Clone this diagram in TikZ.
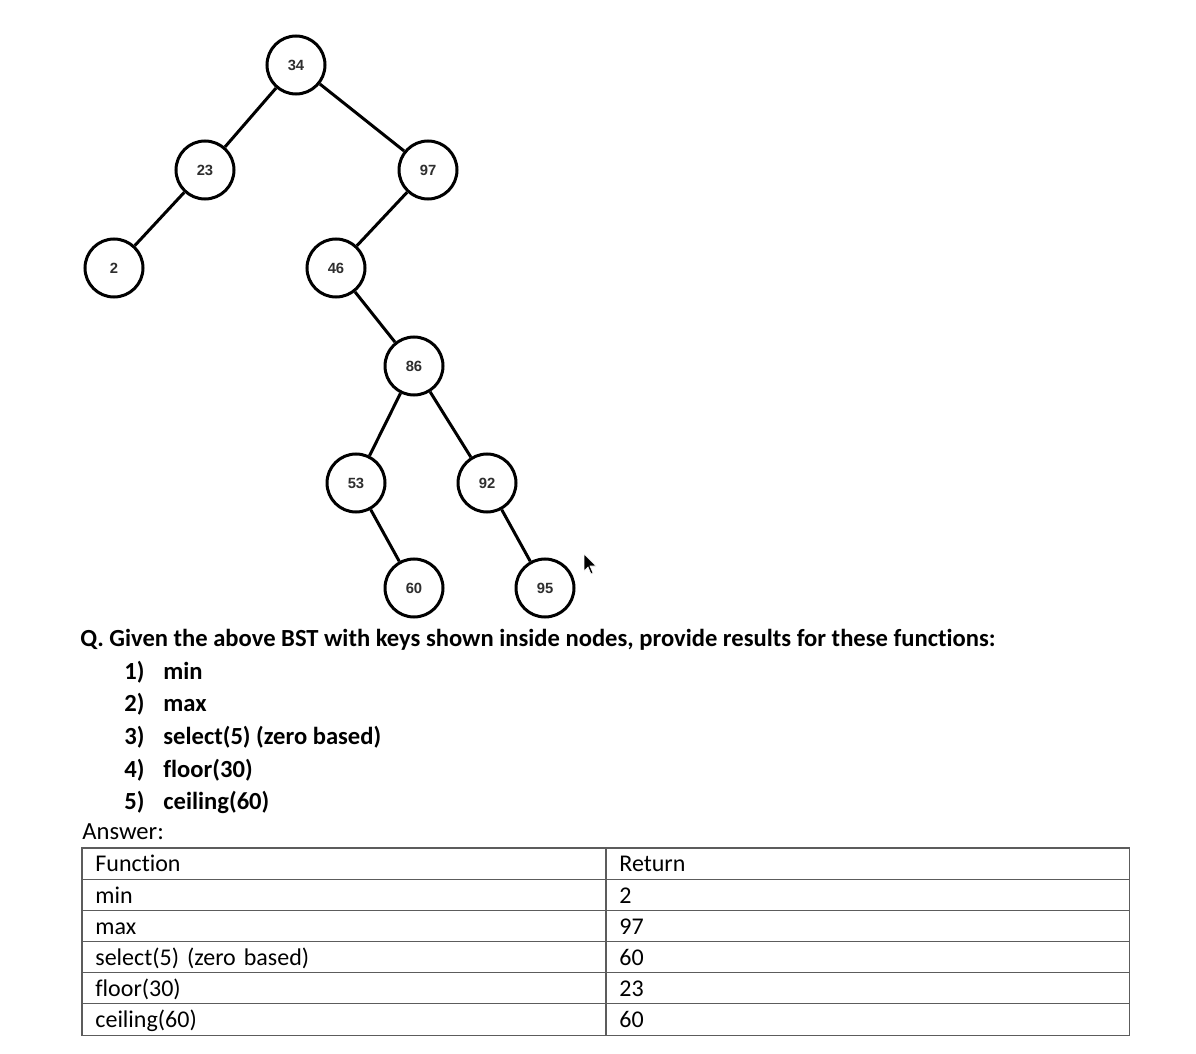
\documentclass[tikz,border=0pt]{standalone}
\usepackage{fontspec}
\setmainfont{Carlito}[Ligatures=NoCommon]
\newfontfamily\keyfont{Liberation Sans}
\usepackage{tikz}
\usetikzlibrary{matrix}
\definecolor{keygray}{rgb}{0.18,0.18,0.18}
\definecolor{rulegray}{rgb}{0.36,0.36,0.36}
\newcommand{\qfont}{\fontsize{12.3pt}{14pt}\selectfont}
\newcommand{\tfont}{\fontsize{12pt}{14pt}\selectfont}

\begin{document}
\begin{tikzpicture}[
    x=0.5pt, y=-0.5pt,
    keynode/.style={circle, draw, line width=1.5pt, minimum size=29pt, inner sep=0,
        text=keygray, font=\keyfont\bfseries\fontsize{7.4pt}{8pt}\selectfont},
    treeedge/.style={line width=1.5pt},
    qtext/.style={anchor=base west, inner sep=0, font=\qfont},
    table/.style={
        matrix of nodes,
        inner sep=0,
        row sep=0,
        column sep=0,
        nodes in empty cells,
        nodes={rectangle, anchor=center, inner xsep=6.5pt, inner ysep=0,
            minimum height=15.58pt, text height=10pt, text depth=2pt, font=\tfont},
    column 1/.style={nodes={text width=249pt}},
    column 2/.style={nodes={text width=248.5pt}}},
    tablerule/.style={draw=rulegray, line width=0.6pt}]
\useasboundingbox (0,0) rectangle (1196,1054);

% the search tree
\node[keynode] (k34) at (296,65)  {34};
\node[keynode] (k23) at (205,170) {23};
\node[keynode] (k97) at (428,170) {97};
\node[keynode] (k2)  at (114,268) {2};
\node[keynode] (k46) at (336,268) {46};
\node[keynode] (k86) at (414,366) {86};
\node[keynode] (k53) at (356,483) {53};
\node[keynode] (k92) at (487,483) {92};
\node[keynode] (k60) at (414,588) {60};
\node[keynode] (k95) at (545,588) {95};

\foreach \from/\to in {k34/k23, k34/k97, k23/k2, k97/k46, k46/k86,
                       k86/k53, k86/k92, k53/k60, k92/k95}
    \draw[treeedge] (\from) -- (\to);

% mouse pointer
\fill[black, draw=white, line width=0.3pt]
    (584,554) -- (584,571) -- (588,567) -- (591,574) -- (593,573) -- (590,566) -- (596,566) -- cycle;

% question
\node[qtext, font=\qfont\bfseries] (q) at (80,646)
    {Q. Given the above BST with keys shown inside nodes, provide results for these functions:};
\foreach \n/\txt/\yy in {1/min/679, 2/max/711, 3/select(5) (zero based)/744,
                         4/floor(30)/777, 5/ceiling(60)/809} {
    \node[qtext, font=\qfont\bfseries] (num\n) at (124,\yy) {\n)};
    \node[qtext, font=\qfont\bfseries] (item\n) at (163,\yy) {\txt};
}
\node[qtext] (answer) at (82,839) {Answer:};

% answer table
\matrix (ans) [table, anchor=north west, ampersand replacement=\&] at (82,848) {
 Function              \& Return \\
 min                   \& 2      \\
 max                   \& 97     \\
 select(5) (zero based)\& 60     \\
 floor(30)             \& 23     \\
 ceiling(60)           \& 60     \\
};

\foreach \r in {2,...,6}
    \path[tablerule] (ans-\r-1.north west) -- (ans-\r-2.north east);
\path[tablerule] (ans-1-2.north west) -- (ans-6-2.south west);
\path[tablerule] (ans-1-1.north west) rectangle (ans-6-2.south east);

\end{tikzpicture}
\end{document}
